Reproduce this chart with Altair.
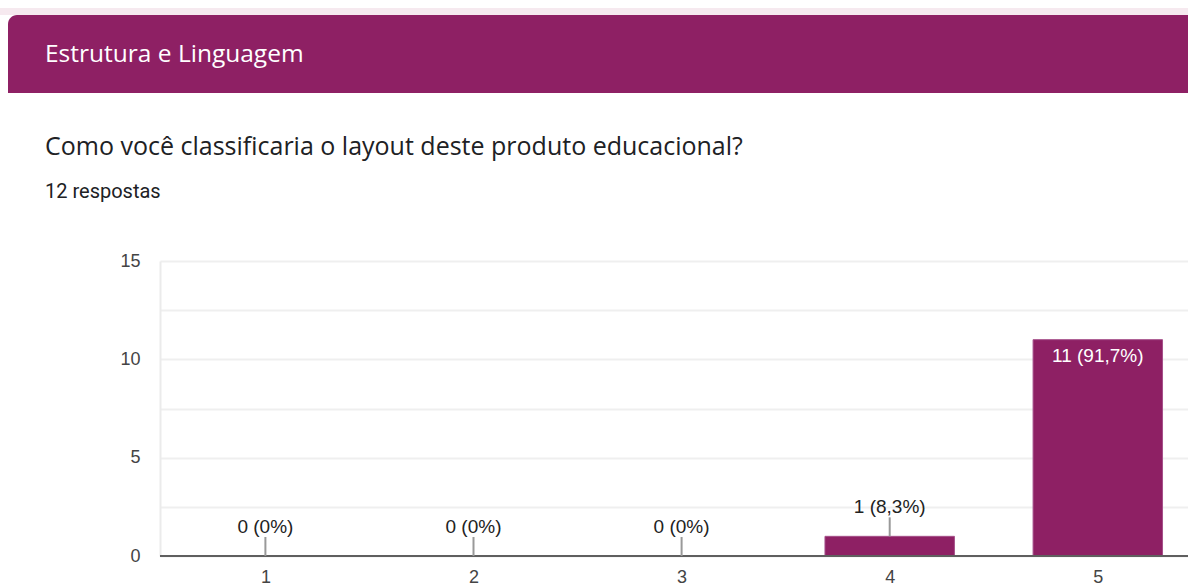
import altair as alt
import pandas as pd

categories = [1, 2, 3, 4, 5]
counts = [0, 0, 0, 1, 11]
labels = ["0 (0%)", "0 (0%)", "0 (0%)", "1 (8,3%)", "11 (91,7%)"]
section_title = "Estrutura e Linguagem"
question = "Como você classificaria o layout deste produto educacional?"
responses = "12 respostas"

PURPLE = "#8E2064"
W, H = 1028, 295
LEFT, TOP = 160, 261
STEP = 208.1
X0 = 1 - 105.4 / STEP

df = pd.DataFrame({"cat": categories, "count": counts, "label": labels})

one = pd.DataFrame({"a": [0]})

xscale = alt.Scale(domain=[X0, X0 + W / STEP], nice=False, zero=False, padding=0)
yscale = alt.Scale(domain=[0, 15], nice=False, padding=0)

base = alt.Chart(df)

bars = base.transform_calculate(
    x0="datum.cat - 0.311", x1="datum.cat + 0.311"
).mark_bar(color=PURPLE, stroke="#a5508a", strokeWidth=1).encode(
    x=alt.X("x0:Q", scale=xscale,
            axis=alt.Axis(values=categories, title=None, ticks=False, domain=False,
                          grid=False, labelFontSize=18, labelColor="#444",
                          labelFont="Liberation Sans", labelPadding=12, format="d")),
    x2="x1:Q",
    y=alt.Y("count:Q", scale=yscale,
            axis=alt.Axis(values=[0, 2.5, 5, 7.5, 10, 12.5, 15], title=None, ticks=False,
                          labelExpr="datum.value % 5 == 0 ? datum.label : ''",
                          domainColor="#ebebeb", domainWidth=2,
                          gridColor="#efefef", gridWidth=2,
                          labelFontSize=18, labelColor="#444",
                          labelFont="Liberation Sans", labelPadding=20)),
    y2=alt.datum(0),
)

leaders = base.transform_filter("datum.count < 5").mark_rule(
    color="#999", strokeWidth=2, y2Offset=-19
).encode(
    x=alt.X("cat:Q", scale=xscale),
    y=alt.Y("count:Q", scale=yscale),
    y2="count:Q",
)

out_labels = base.transform_filter("datum.count < 5").mark_text(
    fontSize=19, font="Liberation Sans", color="#222", baseline="middle", dy=-29
).encode(
    x=alt.X("cat:Q", scale=xscale),
    y=alt.Y("count:Q", scale=yscale),
    text="label:N",
)

in_labels = base.transform_filter("datum.count >= 5").mark_text(
    fontSize=19, font="Liberation Sans", color="white", baseline="middle", dy=16
).encode(
    x=alt.X("cat:Q", scale=xscale),
    y=alt.Y("count:Q", scale=yscale),
    text="label:N",
)

baseline_rule = alt.Chart(one).mark_rule(color="#5f5f5f", strokeWidth=2).encode(
    y=alt.datum(0, scale=yscale), x=alt.value(0), x2=alt.value(W)
)

deco = alt.Chart(one)
strip = deco.mark_rect(color="#f6e9ef").encode(
    x=alt.value(-LEFT), x2=alt.value(W), y=alt.value(8 - TOP), y2=alt.value(15 - TOP)
)
banner = deco.mark_rect(color=PURPLE, cornerRadiusTopLeft=9).encode(
    x=alt.value(8 - LEFT), x2=alt.value(W), y=alt.value(15 - TOP), y2=alt.value(93 - TOP)
)
banner_text = deco.mark_text(
    text=section_title, color="white", fontSize=24.5, font="Open Sans",
    align="left", baseline="middle"
).encode(x=alt.value(45 - LEFT), y=alt.value(55 - TOP))
q_text = deco.mark_text(
    text=question, color="#202124", fontSize=25, font="Open Sans",
    align="left", baseline="middle"
).encode(x=alt.value(45 - LEFT), y=alt.value(147 - TOP))
r_text = deco.mark_text(
    text=responses, color="#202124", fontSize=20, font="Roboto",
    align="left", baseline="middle"
).encode(x=alt.value(45 - LEFT), y=alt.value(192 - TOP))

chart = alt.layer(
    strip, banner, banner_text, q_text, r_text,
    bars, baseline_rule, leaders, out_labels, in_labels
).properties(
    width=W, height=H,
    autosize=alt.AutoSizeParams(type="none"),
    padding={"left": LEFT, "top": TOP, "right": 0, "bottom": 30},
    background="white",
).configure_view(stroke=None)

chart.save("out.html", embed_options={"renderer": "svg", "actions": False})
